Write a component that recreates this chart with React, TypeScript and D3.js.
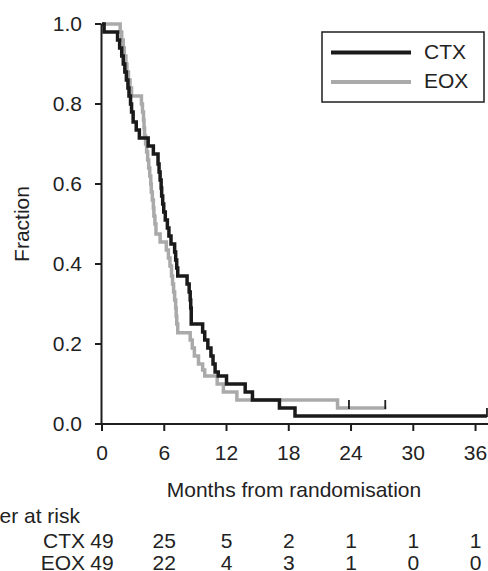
import React from "react";
import * as d3 from "d3";

const ctxTimes = [0, 0.2, 1.5, 1.7, 1.9, 2.05, 2.2, 2.35, 2.5, 2.6, 2.75, 2.85, 3.0, 3.3, 3.6, 4.45, 4.95, 5.4, 5.5, 5.6, 5.7, 5.75, 5.85, 5.95, 6.1, 6.3, 6.45, 6.65, 7.0, 7.1, 7.2, 7.3, 8.2, 8.4, 8.5, 8.55, 8.6, 9.7, 9.9, 10.2, 10.5, 10.7, 10.9, 11.2, 12.0, 13.8, 14.5, 17.1, 18.6, 37.1];
const ctxSurv = [1.0, 0.98, 0.96, 0.94, 0.92, 0.90, 0.88, 0.86, 0.84, 0.82, 0.80, 0.78, 0.755, 0.735, 0.715, 0.695, 0.675, 0.65, 0.63, 0.61, 0.59, 0.57, 0.55, 0.53, 0.51, 0.49, 0.47, 0.45, 0.43, 0.41, 0.39, 0.37, 0.35, 0.33, 0.31, 0.29, 0.25, 0.23, 0.21, 0.19, 0.17, 0.15, 0.13, 0.12, 0.10, 0.08, 0.06, 0.04, 0.02, 0.02];
const eoxTimes = [0, 1.75, 1.9, 2.05, 2.15, 2.3, 2.4, 2.55, 2.7, 2.85, 3.8, 3.9, 4.0, 4.05, 4.1, 4.2, 4.3, 4.4, 4.5, 4.6, 4.7, 4.75, 4.85, 4.95, 5.0, 5.1, 5.2, 5.6, 6.2, 6.4, 6.55, 6.7, 6.8, 6.9, 7.0, 7.1, 7.15, 7.2, 7.3, 8.5, 8.7, 8.9, 9.3, 9.7, 9.9, 11.1, 11.7, 13.0, 22.7, 27.4];
const eoxSurv = [1.0, 0.98, 0.96, 0.94, 0.92, 0.90, 0.88, 0.86, 0.84, 0.82, 0.80, 0.78, 0.76, 0.74, 0.72, 0.70, 0.68, 0.66, 0.64, 0.62, 0.60, 0.58, 0.56, 0.54, 0.52, 0.50, 0.475, 0.455, 0.435, 0.415, 0.395, 0.37, 0.35, 0.33, 0.31, 0.29, 0.27, 0.25, 0.228, 0.21, 0.19, 0.17, 0.15, 0.135, 0.12, 0.10, 0.08, 0.06, 0.04, 0.04];
const ctxCensorTimes = [37.1];
const ctxCensorSurv = [0.02];
const eoxCensorTimes = [23.8, 27.3];
const eoxCensorSurv = [0.04, 0.04];

const xTicks = [0, 6, 12, 18, 24, 30, 36];
const yTicks = [0, 0.2, 0.4, 0.6, 0.8, 1.0];
const riskCtx = [49, 25, 5, 2, 1, 1, 1];
const riskEox = [49, 22, 4, 3, 1, 0, 0];
const seriesNames = ["CTX", "EOX"];
const seriesColors = ["#1a1a1a", "#aaaaaa"];

export default function App() {
  const x = d3.scaleLinear().domain([0, 37.2]).range([102, 488]);
  const y = d3.scaleLinear().domain([0, 1]).range([424, 24]);
  const line = d3
    .line<[number, number]>()
    .x((d) => x(d[0]))
    .y((d) => y(d[1]))
    .curve(d3.curveStepAfter);
  const ctxPts = ctxTimes.map((t, i) => [t, ctxSurv[i]] as [number, number]);
  const eoxPts = eoxTimes.map((t, i) => [t, eoxSurv[i]] as [number, number]);
  const font = "'Liberation Sans', Arial, sans-serif";
  const fs = 21;
  const axisColor = "#1e1e1e";

  return (
    <svg
      width={488}
      height={571}
      style={{ position: "absolute", left: 0, top: 0, background: "#fff" }}
      fontFamily={font}
      fontSize={fs}
    >
      {/* curves */}
      <path d={line(eoxPts) || ""} fill="none" stroke={seriesColors[1]} strokeWidth={3.5} />
      <path d={line(ctxPts) || ""} fill="none" stroke={seriesColors[0]} strokeWidth={3.5} />
      {ctxCensorTimes.map((t, i) => (
        <line key={"cc" + i} x1={x(t)} x2={x(t)} y1={y(ctxCensorSurv[i]) - 8} y2={y(ctxCensorSurv[i]) + 1} stroke={axisColor} strokeWidth={1.8} />
      ))}
      {eoxCensorTimes.map((t, i) => (
        <line key={"ec" + i} x1={x(t)} x2={x(t)} y1={y(eoxCensorSurv[i]) - 8} y2={y(eoxCensorSurv[i]) + 1} stroke={axisColor} strokeWidth={1.8} />
      ))}

      {/* axes */}
      <line x1={95} x2={488} y1={y(0)} y2={y(0)} stroke={axisColor} strokeWidth={2} />
      <line x1={101.5} x2={101.5} y1={y(1)} y2={y(0)} stroke={axisColor} strokeWidth={2} />
      {yTicks.map((v) => (
        <g key={"y" + v}>
          <line x1={95} x2={101.5} y1={y(v)} y2={y(v)} stroke={axisColor} strokeWidth={2} />
          <text x={82} y={y(v)} dy="0.35em" textAnchor="end" fill="#222">
            {v.toFixed(1)}
          </text>
        </g>
      ))}
      {xTicks.map((v) => (
        <g key={"x" + v}>
          <line x1={x(v)} x2={x(v)} y1={y(0)} y2={y(0) + 7} stroke={axisColor} strokeWidth={2} />
          <text x={x(v)} y={460} textAnchor="middle" fill="#222">
            {v}
          </text>
        </g>
      ))}
      <text transform="translate(29,224) rotate(-90)" textAnchor="middle" fill="#222">
        Fraction
      </text>
      <text x={294} y={497} textAnchor="middle" fill="#222">
        Months from randomisation
      </text>

      {/* number at risk */}
      <text x={-56.5} y={523} fill="#222">
        Number at risk
      </text>
      {[riskCtx, riskEox].map((row, r) => (
        <g key={"r" + r}>
          <text x={85} y={548 + r * 22} textAnchor="end" fill="#222">
            {seriesNames[r]}
          </text>
          {row.map((n, i) => (
            <text key={i} x={x(xTicks[i])} y={548 + r * 22} textAnchor="middle" fill="#222">
              {n}
            </text>
          ))}
        </g>
      ))}

      {/* legend */}
      <rect x={322} y={32} width={162} height={70} fill="#fff" stroke={axisColor} strokeWidth={1.5} />
      {seriesNames.map((n, i) => (
        <g key={"l" + n}>
          <line x1={331} x2={411} y1={52.5 + i * 29.5} y2={52.5 + i * 29.5} stroke={seriesColors[i]} strokeWidth={4} />
          <text x={424} y={58.5 + i * 29.5} fill="#222">
            {n}
          </text>
        </g>
      ))}
    </svg>
  );
}
